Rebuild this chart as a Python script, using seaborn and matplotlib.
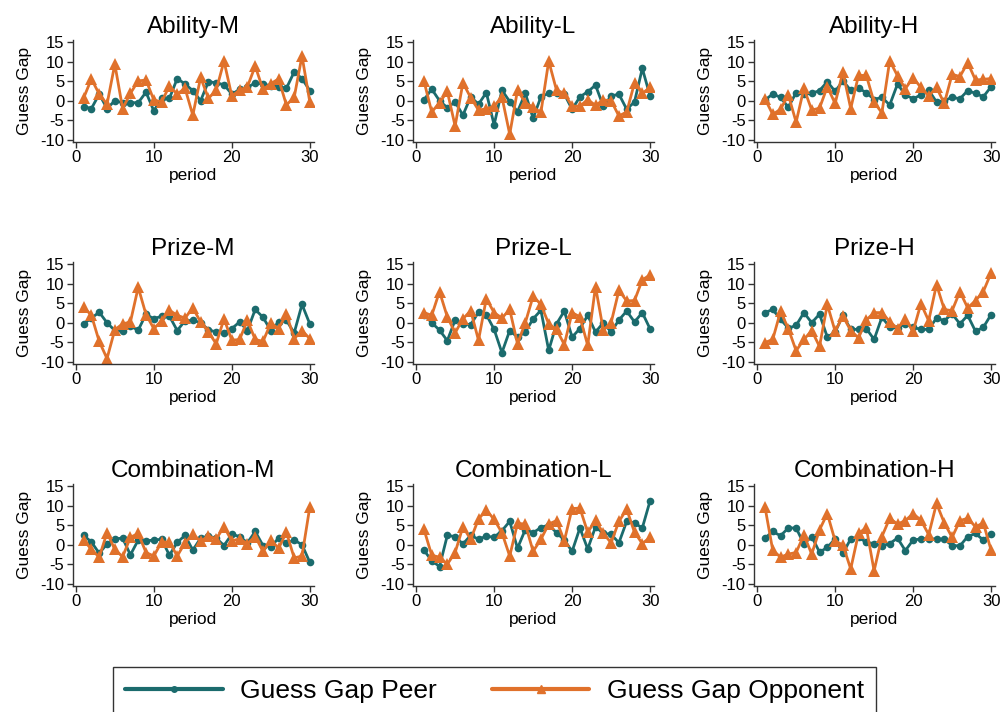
import numpy as np
import pandas as pd
import matplotlib
matplotlib.use("Agg")
import matplotlib.pyplot as plt
import seaborn as sns
from matplotlib.lines import Line2D

periods = list(range(1, 31))

titles = ["Ability-M", "Ability-L", "Ability-H",
          "Prize-M", "Prize-L", "Prize-H",
          "Combination-M", "Combination-L", "Combination-H"]

# Guess gap relative to peers, per treatment
peer_ability_m = [-1.5, -2.0, 1.7, -2.0, 0.0, -0.5, -0.5, -0.5, 2.2, -2.6,
                  0.6, 0.6, 5.7, 4.3, 2.6, 0.0, 4.9, 4.6, 4.1, 1.7,
                  2.9, 3.4, 4.6, 4.3, 3.8, 3.6, 3.2, 7.4, 5.7, 2.6]
peer_ability_l = [0.2, 3.0, 0.0, -1.8, -0.3, -3.7, 1.0, -0.9, 2.1, -6.2,
                  2.7, -0.2, -2.8, 1.9, -4.5, 1.0, 1.9, 1.9, 1.7, -2.2,
                  1.0, 2.3, 4.0, -1.4, 1.2, 1.7, -2.2, -0.3, 8.3, 1.2]
peer_ability_h = [0.2, 1.7, 0.9, -1.7, 2.1, 1.7, 1.9, 2.6, 4.9, 2.4,
                  5.1, 2.7, 3.2, 2.1, 0.3, 0.9, -1.1, 4.3, 1.5, 0.5,
                  1.5, 2.7, -0.3, 0.0, 0.9, 0.5, 2.6, 1.9, 1.0, 3.6]
peer_prize_m = [-0.3, 1.2, 2.7, 0.0, -2.0, -2.2, -0.9, -1.9, 2.2, 1.0,
                1.7, 1.7, -2.0, 0.5, 0.6, 0.0, -1.8, -2.4, -2.6, -1.5,
                0.2, -2.0, 3.4, 1.4, -2.0, 0.2, 0.6, -2.6, 4.7, -0.3]
peer_prize_l = [2.1, 0.0, -1.9, -4.6, 0.7, -0.3, -0.5, 2.7, 2.1, -1.7,
                -7.7, -2.0, -3.7, -2.4, 1.0, 3.2, -7.1, -0.3, 3.0, -3.7,
                -1.5, 1.9, -2.4, 0.0, -2.4, 0.7, 3.0, 0.2, 2.6, -1.6]
peer_prize_h = [2.6, 3.4, 0.9, -1.4, -0.7, 2.6, 0.0, 2.2, -3.7, -2.4,
                1.9, -1.7, -1.7, -1.5, -4.3, 1.4, -1.1, -1.4, -0.2, -1.2,
                -1.7, -1.7, 1.2, 0.5, 2.3, -0.3, 1.9, -2.2, -1.2, 2.1]
peer_comb_m = [2.4, 0.7, -2.2, 0.2, 1.5, 1.7, -2.6, 1.2, 1.0, 1.2,
               1.4, -2.7, 0.6, 2.4, -1.4, 1.7, 2.2, 1.7, -0.2, 2.7,
               2.1, 0.5, 3.4, -0.2, -0.5, 1.7, 0.4, 1.2, 0.0, -4.5]
peer_comb_l = [-1.4, -4.1, -5.6, 2.4, 2.1, 0.2, 2.4, 1.4, 2.2, 1.9,
               3.6, 6.0, -0.9, 3.9, 3.1, 4.4, 5.1, 3.1, 1.2, -1.7,
               4.3, -1.1, 4.6, 2.9, 2.7, 0.5, 6.0, 5.6, 4.3, 11.3]
peer_comb_h = [1.7, 3.4, 2.3, 4.3, 4.3, 0.2, 2.1, -1.9, -0.7, 1.5,
               -2.2, 1.5, 1.9, 0.6, 0.3, -0.3, 0.3, 1.7, -1.5, 1.2,
               1.5, 1.5, 1.5, 1.4, -0.2, -0.3, 2.1, 2.9, 1.2, 2.7]

# Guess gap relative to opponents, per treatment
opp_ability_m = [0.7, 5.6, 1.7, -0.9, 9.4, -2.0, 1.9, 5.1, 5.3, 0.2,
                 -0.3, 3.8, 1.7, 3.2, -3.7, 6.0, 0.6, 2.7, 10.2, 1.2,
                 2.7, 3.6, 8.9, 2.9, 4.4, 5.6, -1.1, 0.9, 11.5, -0.3]
opp_ability_l = [5.1, -2.9, -0.5, 2.4, -6.5, 4.6, 0.8, -2.4, -2.1, -1.4,
                 1.0, -8.6, 2.7, -0.5, -1.7, -3.0, 10.2, 2.7, 1.9, -1.4,
                 -1.4, 0.3, -1.2, 0.2, 0.0, -3.9, -2.9, 4.6, 1.9, 3.4]
opp_ability_h = [0.5, -3.5, -2.2, 1.5, -5.5, 3.2, -2.4, -1.9, 3.6, -0.7,
                 7.4, -2.0, 6.5, 6.5, -0.4, -3.1, 10.3, 6.4, 3.1, 5.9,
                 3.4, 1.2, 3.4, -0.7, 6.8, 6.2, 9.8, 5.3, 5.5, 5.7]
opp_prize_m = [4.0, 1.9, -4.8, -9.2, -1.8, -0.3, 0.2, 9.1, 2.1, -1.5,
               0.5, 3.2, 1.9, 1.2, 3.8, 0.2, -2.4, -5.4, 1.0, -4.5,
               -4.3, 0.6, -4.3, -4.8, -0.1, -1.5, 2.3, -4.1, -2.0, -4.1]
opp_prize_l = [2.6, 1.9, 8.0, 1.5, -2.6, 1.0, 3.1, -4.5, 6.2, 2.6,
               1.2, 3.4, -5.4, 0.0, 6.8, 4.7, -0.3, -1.7, -5.6, 2.6,
               1.5, -5.8, 9.3, -1.9, 0.0, 8.3, 5.6, 5.7, 11.0, 12.3]
opp_prize_h = [-5.1, -4.3, 2.9, -1.5, -7.2, -4.3, -2.0, -6.1, 4.7, -2.2,
               1.7, -2.0, -3.9, 0.7, 2.6, 2.6, 0.3, -1.5, 0.9, -2.2,
               4.9, 0.5, 9.8, 3.4, 3.1, 8.0, 3.8, 5.7, 8.0, 12.8]
opp_comb_m = [1.2, -1.2, -3.2, 3.1, -1.2, -3.1, 1.9, 2.9, -2.0, -2.9,
              0.7, 0.7, -2.9, 0.5, 2.7, 0.9, 2.2, 1.5, 4.6, 1.0,
              1.5, 0.3, 2.1, -1.7, 1.2, -0.9, 3.2, -3.4, -2.9, 9.7]
opp_comb_l = [4.0, -2.7, -3.2, -5.0, -2.0, 4.6, 1.4, 6.6, 8.9, 6.5,
              3.1, -2.9, 5.5, 5.3, -1.7, 1.4, 5.3, 6.2, 1.0, 9.3,
              9.4, 3.2, 6.3, 2.9, 0.5, 6.0, 9.1, 3.2, 0.3, 1.9]
opp_comb_h = [9.8, -1.4, -3.2, -2.4, -2.0, 2.5, -2.4, 3.8, 8.0, 1.0,
              -0.1, -6.2, 2.9, 4.4, -6.7, 2.1, 6.8, 5.3, 6.2, 8.0,
              6.3, 2.6, 10.6, 5.6, 1.9, 6.2, 6.8, 4.6, 5.6, -1.4]

peer_series = [peer_ability_m, peer_ability_l, peer_ability_h,
               peer_prize_m, peer_prize_l, peer_prize_h,
               peer_comb_m, peer_comb_l, peer_comb_h]
opp_series = [opp_ability_m, opp_ability_l, opp_ability_h,
              opp_prize_m, opp_prize_l, opp_prize_h,
              opp_comb_m, opp_comb_l, opp_comb_h]

y_ticks = [-10, -5, 0, 5, 10, 15]
x_ticks = [0, 10, 20, 30]
series_names = ["Guess Gap Peer", "Guess Gap Opponent"]

TEAL = "#1b6b6d"
ORANGE = "#e0712b"

sns.set_theme(style="ticks")
plt.rcParams["font.family"] = ["Liberation Sans", "DejaVu Sans"]
plt.rcParams["axes.unicode_minus"] = False
for key in ["text.color", "axes.labelcolor", "xtick.labelcolor",
            "ytick.labelcolor"]:
    plt.rcParams[key] = "black"

W, H = 1003, 712
fig = plt.figure(figsize=(W / 100, H / 100), dpi=100)

col_left = [72.7, 413.0, 754.0]
row_top = [40.0, 262.0, 484.0]
ax_w, ax_h = 241.0, 102.0

palette = {series_names[0]: TEAL, series_names[1]: ORANGE}
markers = {series_names[0]: "o", series_names[1]: "^"}
msize = {series_names[0]: 5.5, series_names[1]: 8}

for i, title in enumerate(titles):
    r, c = divmod(i, 3)
    ax = fig.add_axes([col_left[c] / W, 1 - (row_top[r] + ax_h) / H,
                       ax_w / W, ax_h / H])
    df = pd.DataFrame({
        "period": periods * 2,
        "gap": peer_series[i] + opp_series[i],
        "series": [series_names[0]] * 30 + [series_names[1]] * 30,
    })
    for name in series_names:
        sns.lineplot(data=df[df["series"] == name], x="period", y="gap",
                     color=palette[name], marker=markers[name],
                     markersize=msize[name], markeredgewidth=0,
                     linewidth=2.0, ax=ax, legend=False)
    ax.set_xlim(-0.4, 30.5)
    ax.set_ylim(-10.6, 15.6)
    ax.set_xticks(x_ticks)
    ax.set_yticks(y_ticks)
    ax.tick_params(axis="both", labelsize=12, length=4, width=1,
                   color="#333333", pad=2)
    for s in ["top", "right"]:
        ax.spines[s].set_visible(False)
    for s in ["left", "bottom"]:
        ax.spines[s].set_color("#333333")
        ax.spines[s].set_linewidth(1)
    ax.set_xlabel("period", fontsize=12.5, labelpad=2)
    ax.set_ylabel("Guess Gap", fontsize=12.5, labelpad=6)
    ax.set_title(title, fontsize=17.5, pad=5)

handles = [
    Line2D([], [], color=TEAL, marker="o", markersize=4, linewidth=3),
    Line2D([], [], color=ORANGE, marker="^", markersize=6, linewidth=3),
]
leg = fig.legend(handles, series_names, loc="upper left",
                 bbox_to_anchor=(113 / W, 1 - 667 / H), ncol=2,
                 fontsize=19, frameon=True, fancybox=False,
                 handlelength=3.7, handletextpad=0.65, columnspacing=2.1,
                 borderpad=0.45, borderaxespad=0)
leg.get_frame().set_edgecolor("black")
leg.get_frame().set_linewidth(1.0)

fig.savefig("out.png", dpi=100)
